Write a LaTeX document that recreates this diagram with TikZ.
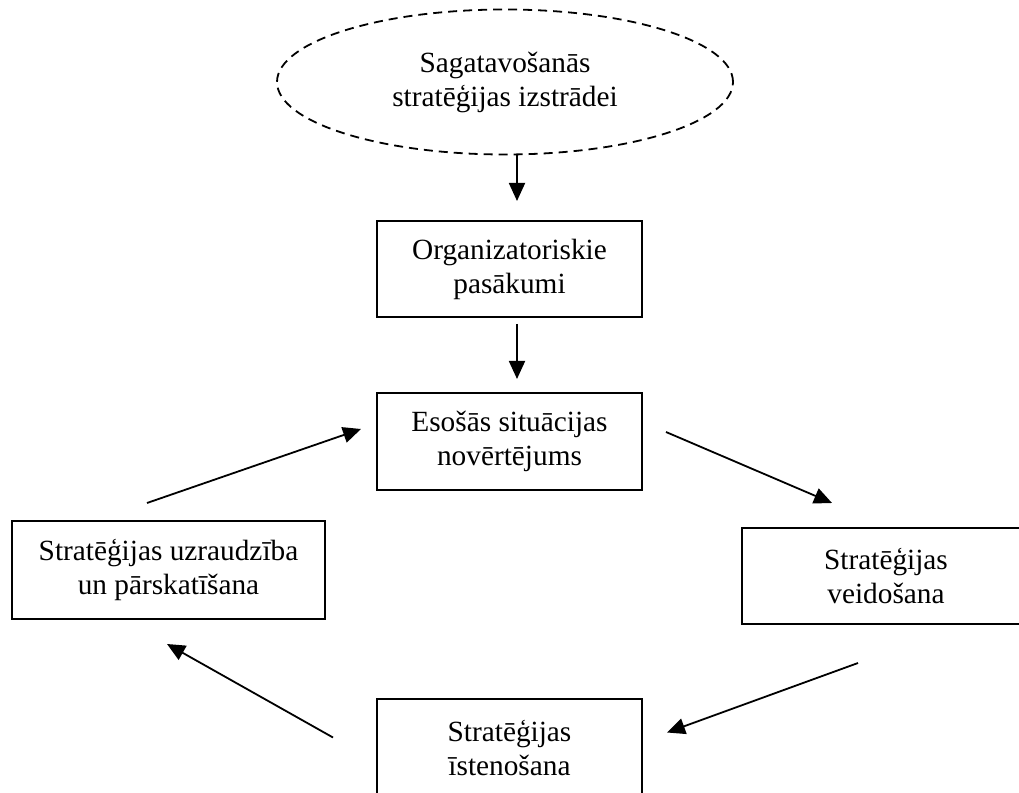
\documentclass[tikz,border=0pt]{standalone}
\usepackage{fontspec}
\setmainfont{Liberation Serif}
\usetikzlibrary{shapes.geometric,arrows.meta}
\begin{document}
\begin{tikzpicture}[x=1pt,y=1pt,
  every node/.style={font=\fontsize{29.3}{34}\selectfont, align=center, inner sep=0pt},
  stagebox/.style={draw, line width=2pt, rectangle},
  prepell/.style={draw, ellipse, line width=1.8pt, dash pattern=on 9pt off 6pt},
  arr/.style={line width=1.8pt, -{Triangle[length=18pt,width=16pt]}}]
\useasboundingbox (0,0) rectangle (1019,792);
\node[prepell, minimum width=456pt, minimum height=145pt] (ell) at (505,710) {Sagatavošanās\\stratēģijas izstrādei};
\node[stagebox, minimum width=265pt, minimum height=96pt] (org) at (509.5,523) {Organizatoriskie\\pasākumi};
\node[stagebox, minimum width=265pt, minimum height=97pt] (eso) at (509.5,350.5) {Esošās situācijas\\novērtējums};
\node[stagebox, minimum width=313pt, minimum height=98pt] (uzr) at (168.5,222) {Stratēģijas uzraudzība\\un pārskatīšana};
\node[stagebox, minimum width=288pt, minimum height=96pt] (veid) at (886,216) {Stratēģijas\\veidošana};
\node[stagebox, minimum width=265pt, minimum height=97pt] (iste) at (509.5,44) {Stratēģijas\\īstenošana};
\draw[arr] ([xshift=12pt,yshift=0pt]ell.south) -- ([xshift=7.5pt,yshift=19pt]org.north);
\draw[arr] ([xshift=7.5pt,yshift=-6pt]org.south) -- ([xshift=7.5pt,yshift=13pt]eso.north);
\draw[arr] ([xshift=-21.5pt,yshift=17pt]uzr.north) -- ([xshift=-15pt,yshift=12.5pt]eso.west);
\draw[arr] ([xshift=23pt,yshift=9.5pt]eso.east) -- ([xshift=-54pt,yshift=24pt]veid.north);
\draw[arr] ([xshift=-28pt,yshift=-38pt]veid.south) -- ([xshift=24pt,yshift=15.5pt]iste.east);
\draw[arr] ([xshift=-43pt,yshift=10.5pt]iste.west) -- ([xshift=-1.5pt,yshift=-24pt]uzr.south);
\end{tikzpicture}
\end{document}
